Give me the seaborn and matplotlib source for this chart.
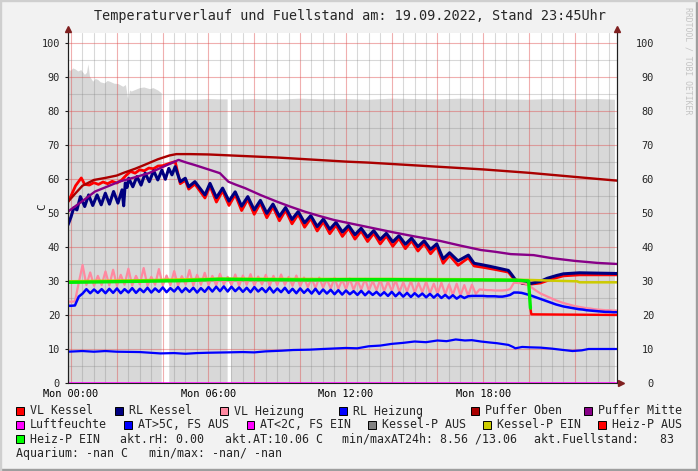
import numpy as np
import matplotlib
matplotlib.use("Agg")
import matplotlib.pyplot as plt
from matplotlib.lines import Line2D
from matplotlib.patches import Rectangle
import seaborn as sns

nan = np.nan

# --- data (hours since Mon 00:00) ---
# Fuellstand (grey area)
fs_t = [-0.13, 0.0, 0.1, 0.2, 0.32, 0.45, 0.61, 0.7, 0.76, 0.83,
        0.97, 1.08, 1.19, 1.3, 1.48, 1.6, 1.7, 1.9, 2.07, 2.28,
        2.4, 2.5, 2.58, 2.65, 3.01, 3.2, 3.45, 3.6, 3.81, 3.96,
        4.1, 4.29, 4.8, 5.4, 6.0, 6.5, 6.84, 6.92, 6.99, 8.0,
        9.0, 10.0, 11.0, 12.0, 13.0, 14.0, 15.0, 16.0, 17.0, 18.0,
        19.0, 20.0, 21.0, 22.0, 23.0, 23.75]
fs_v = [92.1, 91.8, 92.5, 92.2, 91.6, 92.0, 90.6, 91.2, 93.7, 90.1,
        88.6, 89.4, 89.1, 88.4, 88.1, 88.8, 88.6, 88.0, 87.9, 87.1,
        87.6, 83.2, 86.0, 85.7, 86.7, 86.9, 86.4, 86.7, 86.0, 85.2,
        nan, 83.2, 83.4, 83.3, 83.5, 83.4, 83.4, nan, 83.3, 83.5,
        83.3, 83.6, 83.4, 83.5, 83.3, 83.6, 83.5, 83.4, 83.6, 83.5,
        83.4, 83.3, 83.5, 83.4, 83.5, 83.3]

# VL Kessel
vk_t = [-0.13, 0.0, 0.2, 0.45, 0.6, 0.8, 1.0, 1.2, 1.4, 1.6,
        1.8, 2.0, 2.2, 2.4, 2.6, 2.8, 3.0, 3.2, 3.4, 3.6,
        3.8, 4.0, 4.3, 4.55, 4.77, 4.99, 5.14, 5.41, 5.85, 6.07,
        6.35, 6.62, 6.9, 7.17, 7.45, 7.72, 8.0, 8.27, 8.55, 8.82,
        9.1, 9.37, 9.65, 9.92, 10.2, 10.47, 10.75, 11.02, 11.3, 11.57,
        11.85, 12.12, 12.4, 12.67, 12.95, 13.22, 13.5, 13.77, 14.05, 14.32,
        14.6, 14.87, 15.15, 15.42, 15.7, 15.97, 16.25, 16.53, 16.9, 17.35,
        17.6, 18.0, 18.5, 19.1, 19.25, 19.4, 19.7, 20.0, 20.5, 21.0,
        21.5, 22.2, 23.0, 23.84]
vk_v = [53.3, 55.0, 58.0, 60.3, 58.4, 58.2, 58.9, 58.4, 59.1, 58.6,
        59.3, 58.8, 59.6, 61.0, 62.2, 61.7, 62.7, 62.4, 63.2, 63.0,
        63.8, 63.9, 64.6, 65.1, 58.6, 59.6, 57.0, 58.5, 54.4, 57.9,
        53.2, 56.5, 52.2, 55.4, 50.7, 54.0, 49.6, 52.9, 48.6, 51.8,
        47.7, 50.8, 46.8, 49.6, 45.8, 48.4, 44.7, 47.4, 43.9, 46.4,
        43.1, 45.5, 42.3, 44.7, 41.6, 44.0, 40.9, 43.2, 40.2, 42.5,
        39.5, 41.8, 38.8, 41.0, 38.0, 40.1, 35.2, 37.5, 34.6, 36.8,
        34.4, 34.0, 33.4, 32.6, 31.3, 30.2, 29.3, 29.0, 29.4, 30.6,
        31.5, 31.8, 31.8, 31.8]

# RL Kessel
rk_t = [-0.13, 0.0, 0.12, 0.26, 0.41, 0.6, 0.77, 0.95, 1.14, 1.32,
        1.5, 1.68, 1.86, 2.05, 2.23, 2.3, 2.37, 2.45, 2.52, 2.7,
        2.88, 3.06, 3.24, 3.42, 3.61, 3.79, 3.97, 4.12, 4.27, 4.41,
        4.55, 4.77, 4.99, 5.14, 5.41, 5.85, 6.07, 6.35, 6.62, 6.9,
        7.17, 7.45, 7.72, 8.0, 8.27, 8.55, 8.82, 9.1, 9.37, 9.65,
        9.92, 10.2, 10.47, 10.75, 11.02, 11.3, 11.57, 11.85, 12.12, 12.4,
        12.67, 12.95, 13.22, 13.5, 13.77, 14.05, 14.32, 14.6, 14.87, 15.15,
        15.42, 15.7, 15.97, 16.25, 16.53, 16.9, 17.35, 17.6, 18.0, 18.5,
        19.1, 19.25, 19.4, 19.7, 20.1, 20.5, 20.8, 21.2, 21.5, 22.2,
        23.0, 23.84]
rk_v = [46.5, 48.8, 51.5, 50.9, 54.8, 51.9, 55.3, 52.2, 55.3, 52.4,
        55.8, 52.6, 56.3, 52.9, 56.8, 52.1, 58.8, 57.5, 60.2, 57.7,
        60.7, 58.2, 61.7, 59.2, 62.4, 59.7, 62.6, 59.9, 63.1, 61.2,
        63.6, 59.2, 60.2, 57.7, 59.2, 55.3, 58.7, 54.5, 57.3, 53.5,
        56.2, 52.0, 54.8, 50.9, 53.7, 49.9, 52.6, 49.0, 51.6, 48.1,
        50.4, 47.1, 49.2, 46.0, 48.2, 45.2, 47.2, 44.4, 46.3, 43.6,
        45.5, 42.9, 44.8, 42.2, 44.0, 41.5, 43.3, 40.8, 42.6, 40.1,
        41.8, 39.3, 40.9, 36.5, 38.3, 35.9, 37.6, 35.2, 34.7, 34.0,
        33.1, 31.8, 30.4, 29.4, 29.3, 29.9, 30.8, 31.6, 32.1, 32.4,
        32.3, 32.2]

# Heizung series, sampled every 10 minutes
hz_t = np.arange(145) / 6 - 0.16
vh_v = [23.9, 23.9, 24.0, 29.5, 34.7, 28.8, 32.5, 28.6, 31.5, 28.8, 32.8, 28.7,
        33.3, 28.6, 31.8, 28.9, 33.6, 28.7, 31.5, 29.0, 33.8, 28.6, 31.2, 28.9,
        33.5, 28.7, 31.6, 28.8, 32.9, 28.6, 31.4, 29.0, 33.2, 28.7, 31.8, 28.9,
        32.4, 28.8, 31.5, 28.7, 32.1, 29.0, 31.2, 28.8, 31.9, 28.6, 31.6, 28.9,
        32.0, 28.7, 31.3, 29.0, 31.8, 28.6, 31.5, 28.8, 31.9, 28.9, 31.2, 28.6,
        31.6, 28.5, 31.0, 28.2, 30.8, 27.9, 31.0, 28.1, 30.5, 27.8, 30.9, 27.7,
        30.4, 27.6, 30.7, 27.4, 30.2, 27.5, 30.6, 27.2, 30.0, 27.3, 30.4, 27.0,
        29.8, 27.1, 30.2, 26.8, 29.6, 26.9, 30.0, 26.6, 29.4, 26.7, 29.8, 26.4,
        29.2, 26.3, 29.5, 26.1, 29.0, 25.9, 29.2, 25.8, 28.8, 25.7, 28.9, 26.2,
        27.5, 27.4, 27.3, 27.3, 27.2, 27.2, 27.2, 27.3, 27.6, 29.5, 29.4, 29.4,
        29.2, 28.6, 27.8, 27.0, 26.3, 25.8, 25.3, 24.8, 24.3, 23.9, 23.5, 23.2,
        22.9, 22.6, 22.4, 22.2, 22.0, 21.9, 21.7, 21.6, 21.5, 21.4, 21.4, 21.3,
        21.3]
rh_v = [22.7, 22.7, 22.8, 25.4, 26.3, 27.6, 26.4, 27.5, 26.5, 27.6, 26.4, 27.7,
        26.5, 27.8, 26.4, 27.6, 26.6, 27.9, 26.5, 27.7, 26.7, 28.0, 26.6, 27.8,
        26.8, 28.1, 26.7, 27.9, 26.9, 28.2, 26.7, 27.9, 26.8, 28.0, 26.6, 27.9,
        26.8, 28.2, 26.9, 28.3, 27.0, 28.4, 26.9, 28.3, 27.0, 28.1, 26.8, 28.0,
        26.7, 28.2, 26.9, 27.9, 26.7, 28.1, 26.6, 27.8, 26.7, 28.0, 26.5, 27.7,
        26.4, 27.8, 26.5, 27.6, 26.3, 27.7, 26.2, 27.5, 26.3, 27.4, 26.1, 27.3,
        26.0, 27.2, 26.1, 27.0, 25.9, 27.1, 25.8, 26.9, 25.9, 26.8, 25.7, 26.7,
        25.6, 26.8, 25.5, 26.6, 25.4, 26.5, 25.3, 26.4, 25.4, 26.3, 25.2, 26.2,
        25.1, 26.1, 25.0, 25.9, 24.9, 25.8, 24.8, 25.6, 25.0, 25.5, 25.6, 25.6,
        25.6, 25.6, 25.5, 25.5, 25.5, 25.4, 25.4, 25.6, 25.9, 26.6, 26.6, 26.5,
        26.2, 25.9, 25.5, 25.1, 24.7, 24.3, 23.9, 23.5, 23.1, 22.8, 22.5, 22.3,
        22.1, 21.9, 21.7, 21.6, 21.4, 21.3, 21.2, 21.1, 21.0, 20.9, 20.9, 20.8,
        20.8]

# Puffer Oben / Mitte
po_t = [-0.13, 0.2, 0.5, 1.0, 1.5, 2.0, 2.3, 2.8, 3.2, 3.8, 4.3, 4.6, 5.2,
        6.0, 7.0, 8.0, 9.0, 10.0, 11.0, 12.0, 13.0, 14.0, 15.0, 16.0, 17.0,
        18.0, 19.0, 20.0, 21.0, 22.0, 23.0, 23.84]
po_v = [53.3, 55.8, 58.0, 59.7, 60.3, 61.0, 61.8, 63.0, 64.1, 65.8, 66.9, 67.3, 67.3,
        67.2, 66.9, 66.6, 66.3, 65.9, 65.5, 65.1, 64.8, 64.4, 64.0, 63.6, 63.2,
        62.8, 62.3, 61.8, 61.2, 60.6, 60.0, 59.5]
pm_t = [-0.13, 0.5, 1.05, 1.6, 2.1, 2.8, 3.4, 4.0, 4.7, 5.0, 5.4, 6.0, 6.5,
        6.87, 7.2, 7.6, 8.3, 9.0, 9.6, 10.2, 10.8, 11.5, 12.0, 13.0, 14.0,
        15.0, 16.1, 17.0, 17.9, 18.5, 19.2, 20.2, 21.0, 22.0, 23.0, 23.84]
pm_v = [50.4, 53.5, 56.3, 57.8, 59.2, 60.5, 61.7, 63.5, 65.6, 64.9, 64.1, 62.8, 61.7,
        59.2, 58.3, 57.3, 55.2, 53.3, 51.8, 50.4, 49.2, 47.9, 47.2, 45.8, 44.4,
        43.1, 41.8, 40.4, 39.1, 38.6, 37.9, 37.6, 36.7, 35.9, 35.3, 35.0]

# Luftfeuchte
lf_t = [-0.13, 23.84]
lf_v = [0.0, 0.0]

# Aussentemperatur (AT>5C, FS AUS)
at_t = [-0.13, 0.5, 1.0, 1.5, 2.0, 3.0, 3.9, 4.5, 5.0, 5.5,
        6.0, 6.8, 7.5, 8.0, 8.5, 9.2, 9.7, 10.4, 11.0, 12.0,
        12.5, 13.0, 13.5, 14.0, 14.5, 15.0, 15.5, 16.0, 16.4, 16.8,
        17.2, 17.5, 17.9, 18.3, 18.6, 19.1, 19.3, 19.4, 19.7, 20.0,
        20.5, 21.0, 21.5, 21.9, 22.3, 22.6, 23.2, 23.84]
at_v = [9.2, 9.4, 9.2, 9.4, 9.2, 9.1, 8.7, 8.8, 8.6, 8.8,
        8.9, 9.0, 9.1, 9.0, 9.3, 9.5, 9.7, 9.8, 10.0, 10.3,
        10.2, 10.8, 11.0, 11.5, 11.8, 12.2, 12.0, 12.5, 12.3, 12.8,
        12.5, 12.6, 12.2, 11.9, 11.7, 11.2, 10.6, 10.2, 10.6, 10.5,
        10.4, 10.1, 9.7, 9.4, 9.6, 10.0, 10.0, 10.0]

# pumps
kpe_t = [-0.13, 3.0, 6.5, 10.0, 14.0, 18.0, 20.0, 21.0, 22.1, 22.2, 23.84]
kpe_v = [29.9, 30.2, 30.7, 30.6, 30.6, 30.5, 30.3, 30.1, 29.9, 29.6, 29.6]
hpa_t = [20.06, 20.1, 23.84]
hpa_v = [22.0, 20.2, 20.0]
hpe_t = [-0.13, 1.0, 3.0, 5.0, 6.5, 8.0, 10.4, 12.0, 14.0, 16.0, 18.0, 19.5, 19.98, 20.06]
hpe_v = [29.6, 29.7, 29.9, 30.1, 30.5, 30.4, 30.3, 30.4, 30.4, 30.3, 30.3, 30.2, 30.0, 22.0]

x_ticks = [0, 2, 4, 6, 8, 10, 12, 14, 16, 18, 20, 22]
x_labels = ['Mon 00:00', '', '', 'Mon 06:00', '', '', 'Mon 12:00', '', '',
            'Mon 18:00', '', '']
y_ticks = list(range(0, 101, 10))

title = 'Temperaturverlauf und Fuellstand am: 19.09.2022, Stand 23:45Uhr'

legend_rows = [
    [('VL Kessel', '#FF0000'), ('RL Kessel', '#000080'), ('VL Heizung', '#FF88A0'),
     ('RL Heizung', '#0000FF'), ('Puffer Oben', '#AA0000'), ('Puffer Mitte', '#880088')],
    [('Luftfeuchte', '#FF00FF'), ('AT>5C, FS AUS', '#0000FF'), ('AT<2C, FS EIN', '#FF00FF'),
     ('Kessel-P AUS', '#808080'), ('Kessel-P EIN', '#CCCC00'), ('Heiz-P AUS', '#FF0000')],
]
legend_text_x = [[30, 129, 234, 353, 485, 597.5],
                 [30, 138, 260.5, 382, 497, 612]]
info_row = [(30, 'Heiz-P EIN'), (120, 'akt.rH: 0.00'), (225, 'akt.AT:10.06 C'),
            (342, 'min/maxAT24h: 8.56 /13.06'), (534, 'akt.Fuellstand:   83')]
aquarium = 'Aquarium: -nan C   min/max: -nan/ -nan'

# --- style ---
sns.set_style("white")
plt.rcParams['font.family'] = ['DejaVu Sans Mono']

W, H = 698, 471
fig = plt.figure(figsize=(W / 100, H / 100), dpi=100, facecolor='#F2F2F2')


def fx(x):
    return x / W


def fy(y):
    return 1 - y / H


ax = fig.add_axes([fx(68), fy(383), (617 - 68) / W, (383 - 32.7) / H])
ax.set_facecolor('white')

ax.fill_between(fs_t, 0, fs_v, color='#D8D8D8', lw=0, zorder=1)

series = [
    (vk_t, vk_v, '#FF0000', 2.0),
    (rk_t, rk_v, '#000080', 2.2),
    (hz_t, vh_v, '#FF88A0', 1.6),
    (hz_t, rh_v, '#0000FF', 1.8),
    (po_t, po_v, '#AA0000', 1.7),
    (pm_t, pm_v, '#880088', 1.7),
    (lf_t, lf_v, '#FF00FF', 1.8),
    (at_t, at_v, '#0000FF', 1.6),
    (kpe_t, kpe_v, '#CCCC00', 1.8),
    (hpa_t, hpa_v, '#FF0000', 1.7),
    (hpe_t, hpe_v, '#00EE00', 2.4),
]
for t, v, c, lw in series:
    sns.lineplot(x=list(t), y=v, color=c, linewidth=lw, ax=ax,
                 estimator=None, sort=False, zorder=3)

ax.set_xlim(-0.13, 23.84)
ax.set_ylim(0, 103.0)
ax.set_xlabel('')
ax.set_ylabel('')
ax.set_xticks(x_ticks)
ax.set_xticklabels(x_labels)
ax.set_xticks(np.arange(0, 24, 0.5), minor=True)
ax.set_yticks(y_ticks)
ax.set_yticks(np.arange(0, 101, 5), minor=True)
ax.set_axisbelow(False)
ax.grid(which='major', color=(0.87, 0.31, 0.31), alpha=0.45, lw=0.8)
ax.grid(which='minor', color=(0.5, 0.5, 0.5), alpha=0.3, lw=0.8)
ax.tick_params(axis='x', which='both', length=0, pad=4.5, labelsize=7.4, colors='black')
ax.tick_params(axis='y', which='minor', length=0)
ax.tick_params(axis='y', which='major', length=2.2, width=0.8, color='#1F1F1F',
               pad=3.6, labelsize=7.4)
for s in ['left', 'right', 'bottom']:
    ax.spines[s].set_color('#1F1F1F')
    ax.spines[s].set_linewidth(0.8)
ax.spines['top'].set_visible(False)

ax2 = ax.twinx()
ax2.set_ylim(ax.get_ylim())
ax2.set_yticks(y_ticks)
ax2.set_yticklabels([str(v) for v in y_ticks])
ax2.tick_params(axis='y', length=0, pad=26.6, labelsize=7.4)
for lab in ax2.get_yticklabels():
    lab.set_horizontalalignment('right')
for s in ax2.spines.values():
    s.set_visible(False)
ax2.grid(False)

# axis arrows
arrow_c = '#802020'
for x in (68, 617):
    fig.add_artist(Line2D([fx(x), fx(x)], [fy(383), fy(31)], color='#1F1F1F',
                          lw=0.8, transform=fig.transFigure))
    fig.add_artist(Line2D([fx(x)], [fy(29)], marker='^', ms=4.5, color=arrow_c,
                          lw=0, transform=fig.transFigure))
fig.add_artist(Line2D([fx(617), fx(620)], [fy(383), fy(383)], color='#1F1F1F',
                      lw=0.8, transform=fig.transFigure))
fig.add_artist(Line2D([fx(621)], [fy(383)], marker='>', ms=4.5, color=arrow_c,
                      lw=0, transform=fig.transFigure))

# texts
fig.text(fx(350), fy(16), title, ha='center', va='center', fontsize=9.75)
fig.text(fx(42), fy(207), 'C', rotation=90, ha='center', va='center', fontsize=8)
fig.text(fx(688), fy(7), 'RRDTOOL / TOBI OETIKER', rotation=270, ha='center',
         va='top', fontsize=5.9, color='#C4C4C4')

# legend
row_y = [411, 425, 439.3, 453.3]
sq = 8
for r, row in enumerate(legend_rows):
    for (lab, col), tx in zip(row, legend_text_x[r]):
        fig.patches.append(Rectangle((fx(tx - 14), fy(row_y[r] + sq / 2)), sq / W, sq / H,
                                     facecolor=col, edgecolor='black', lw=0.7,
                                     transform=fig.transFigure))
        fig.text(fx(tx), fy(row_y[r]), lab, ha='left', va='center', fontsize=8.4)
fig.patches.append(Rectangle((fx(16), fy(row_y[2] + sq / 2)), sq / W, sq / H,
                             facecolor='#00FF00', edgecolor='black', lw=0.7,
                             transform=fig.transFigure))
for tx, lab in info_row:
    fig.text(fx(tx), fy(row_y[2]), lab, ha='left', va='center', fontsize=8.4)
fig.text(fx(16.5), fy(row_y[3]), aquarium, ha='left', va='center', fontsize=8.4)

# frame shading
fig.patches.append(Rectangle((0, 0), 1, 2 / H, color='#9E9E9E', transform=fig.transFigure))
fig.patches.append(Rectangle((1 - 2 / W, 0), 2 / W, 1, color='#9E9E9E', transform=fig.transFigure))
fig.patches.append(Rectangle((0, 1 - 1 / H), 1, 1 / H, color='#CFCFCF', transform=fig.transFigure))
fig.patches.append(Rectangle((0, 0), 1 / W, 1, color='#CFCFCF', transform=fig.transFigure))

fig.savefig('out.png', dpi=100, facecolor=fig.get_facecolor())
